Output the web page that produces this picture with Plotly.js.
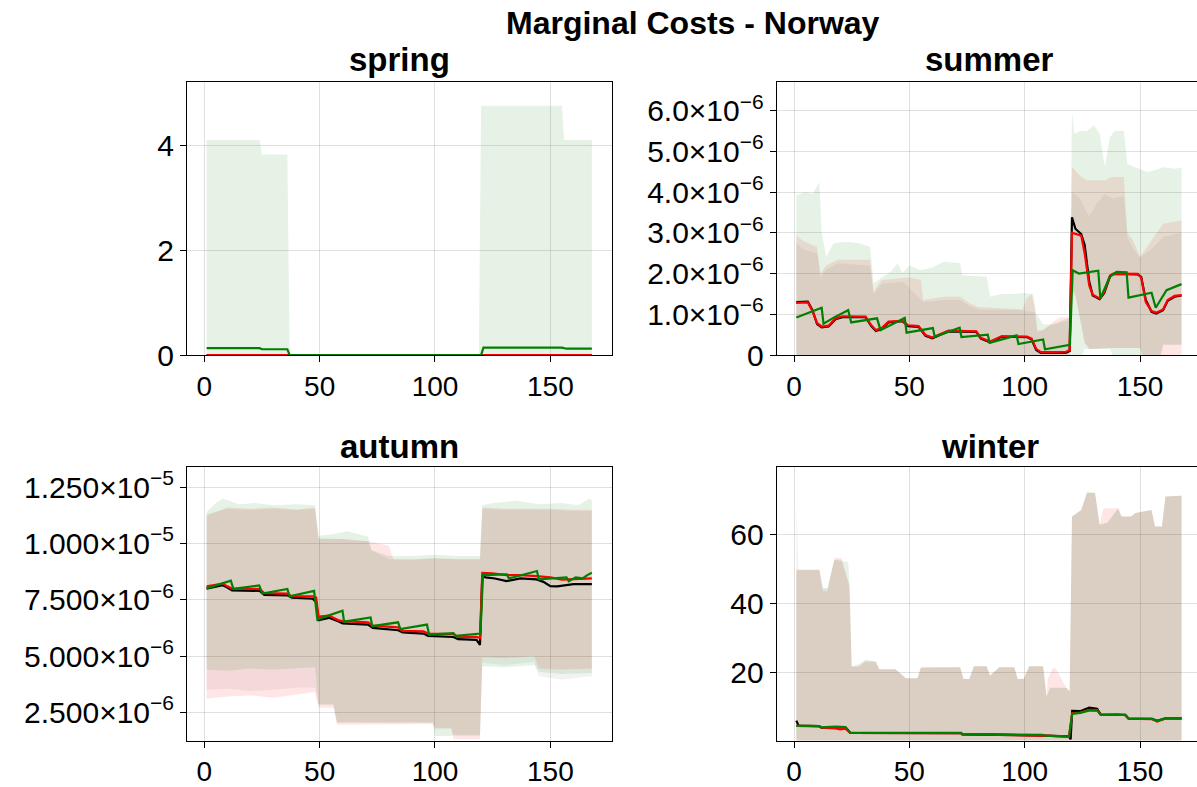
<!DOCTYPE html>
<html>
<head>
<meta charset="utf-8">
<script src="https://cdn.plot.ly/plotly-3.0.1.min.js"></script>
<style>
  html, body { margin: 0; padding: 0; background: #fff; }
  #chart { width: 1197px; height: 787px; }
</style>
</head>
<body>
<div id="chart"></div>
<script>
// ---------------- data: hourly marginal costs over one week (hour 1..168) ----------------
const hourTicks = [0, 50, 100, 150];

// spring (plain units)
const springTicks = [0, 2, 4];
const springBlackX = [1, 168];
const springBlack = [0, 0];
const springRedX = [1, 168];
const springRed = [0, 0];
const springGreenX = [1, 24, 25, 36, 37, 120, 121, 155, 157, 168];
const springGreen = [0.13, 0.13, 0.11, 0.11, 0, 0, 0.14, 0.14, 0.12, 0.12];
const springGreenUpX = [1, 24, 25, 36, 37, 119, 120, 155, 156, 168];
const springGreenUp = [4.1, 4.1, 3.82, 3.82, 0, 0, 4.75, 4.75, 4.1, 4.1];
const springGreenLoX = [1, 168];
const springGreenLo = [0, 0];

// summer (values in units of 1e-6)
const summerTicks = [0, 1, 2, 3, 4, 5, 6];
const summerTickText = ['0', '1.0×10<sup>−6</sup>', '2.0×10<sup>−6</sup>', '3.0×10<sup>−6</sup>',
  '4.0×10<sup>−6</sup>', '5.0×10<sup>−6</sup>', '6.0×10<sup>−6</sup>'];
const summerLineX = [1, 6, 8, 10, 12, 15, 18, 21, 31, 33.5, 35.5, 38, 41, 47, 49.5, 54, 57, 60, 64, 67,
  79, 81, 85, 88, 90, 101, 103, 105, 107, 118, 119.5, 120.5, 122, 124.5, 126, 128, 129.5, 132.5, 134.5, 137,
  138.5, 149, 150.5, 152.5, 155, 157, 160, 162, 165, 168];
const summerBlack = [1.3, 1.31, 1.1, 0.76, 0.68, 0.70, 0.88, 0.93, 0.93, 0.71, 0.59, 0.64, 0.80, 0.83, 0.71, 0.69, 0.47, 0.41, 0.51, 0.58,
  0.57, 0.40, 0.31, 0.38, 0.45, 0.44, 0.38, 0.12, 0.05, 0.06, 0.10, 3.38, 3.1, 2.97, 2.7, 1.8, 1.46, 1.37, 1.52, 1.93,
  1.99, 1.98, 1.92, 1.35, 1.06, 1.02, 1.1, 1.33, 1.43, 1.46];
const summerRed = [1.28, 1.29, 1.08, 0.78, 0.70, 0.72, 0.90, 0.95, 0.94, 0.73, 0.61, 0.66, 0.82, 0.84, 0.73, 0.71, 0.49, 0.43, 0.53, 0.60,
  0.58, 0.42, 0.33, 0.40, 0.46, 0.45, 0.40, 0.15, 0.07, 0.08, 0.12, 3.0, 2.97, 2.93, 2.5, 1.7, 1.48, 1.39, 1.55, 1.95,
  2.0, 1.99, 1.9, 1.3, 1.08, 1.04, 1.12, 1.35, 1.45, 1.47];
const summerGreenX = [1, 12, 12.8, 17.6, 23.5, 24.8, 36, 37.5, 48, 48.8, 60.2, 61, 71.8, 72.6, 84, 84.8, 96.5, 97.3, 108, 108.8,
  119.6, 120.8, 123.5, 131.9, 132.8, 136.9, 139.8, 144.2, 145, 155, 156.8, 161.5, 168];
const summerGreen = [0.92, 1.16, 0.77, 0.93, 1.1, 0.8, 0.9, 0.61, 0.91, 0.55, 0.66, 0.45, 0.67, 0.44, 0.5, 0.3, 0.48, 0.27, 0.38, 0.14,
  0.25, 2.08, 2.0, 2.07, 1.39, 1.92, 2.04, 2.03, 1.41, 1.53, 1.16, 1.59, 1.74];
const summerBlackUpX = [1, 4, 10, 11.5, 14, 19, 33, 34.5, 38, 47.5, 56, 65, 72, 76, 80, 99, 104.5, 105.5, 112, 119.5,
  120.5, 124, 126, 128, 131, 134.7, 138, 143, 144.5, 147, 150, 155, 160, 168];
const summerBlackUp = [2.75, 2.6, 2.5, 1.9, 2.1, 2.25, 2.2, 1.5, 1.75, 1.8, 1.3, 1.35, 1.35, 1.2, 1.12, 1.1, 1.05, 0.55, 0.75, 0.85,
  4.0, 3.85, 3.6, 3.4, 3.7, 3.95, 3.85, 3.9, 2.9, 2.6, 2.4, 2.6, 2.9, 3.0];
const summerBlackLoX = [1, 119.5, 120.5, 122, 124, 126, 128, 137, 150, 151, 159, 160, 168];
const summerBlackLo = [0, 0, 1.6, 1.5, 0.9, 0.3, 0.15, 0.17, 0.17, 0, 0, 0.25, 0.25];
const summerRedUpX = [1, 4, 10, 11.5, 14, 19, 33, 34.5, 38, 47.5, 50, 55, 56, 65, 72, 76, 80, 90, 99, 101,
  103, 104.5, 105.5, 108, 112, 115, 119.5, 120.5, 124, 127, 134.7, 138, 143, 144.5, 147, 150, 155, 160, 168];
const summerRedUp = [2.94, 2.8, 2.65, 2.0, 2.2, 2.34, 2.34, 1.55, 1.84, 1.88, 1.9, 1.85, 1.35, 1.43, 1.43, 1.27, 1.18, 1.15, 1.12, 1.4,
  1.5, 1.1, 0.61, 0.6, 0.8, 0.92, 0.92, 4.62, 4.4, 4.29, 4.29, 4.37, 4.37, 3.0, 2.82, 2.41, 2.8, 3.22, 3.3];
const summerRedLoX = [1, 119.5, 120.5, 122, 124, 126, 128, 137, 150, 151, 168];
const summerRedLo = [0, 0, 1.55, 1.45, 0.85, 0.3, 0.15, 0.17, 0.17, 0, 0];
const summerGreenUpX = [1, 5, 8, 11, 12, 14, 17, 22, 28, 33, 34.5, 38, 42, 45, 47, 50, 55, 60, 65, 72,
  73, 83.6, 85, 90, 95, 100, 103.7, 105, 108, 112, 119.5, 120.5, 121.5, 124, 127, 130, 132.5, 134.7, 137, 139,
  143, 144.5, 148, 153, 157, 160, 165, 168];
const summerGreenUp = [3.92, 4.0, 3.95, 4.25, 3.0, 2.41, 2.74, 2.78, 2.75, 2.65, 1.76, 1.9, 2.05, 2.25, 2.0, 2.2, 2.08, 2.15, 2.29, 2.25,
  1.96, 1.92, 1.43, 1.5, 1.5, 1.52, 1.5, 1.02, 0.75, 0.75, 0.92, 6.0, 5.43, 5.5, 5.5, 5.64, 5.43, 4.62, 5.35, 5.5,
  5.5, 4.69, 4.6, 4.49, 4.55, 4.61, 4.57, 4.6];
const summerGreenLoX = [1, 119.5, 120.5, 125, 126, 137, 138, 159, 160, 168];
const summerGreenLo = [0, 0, 0, 0, 0.15, 0.15, 0, 0, 0.25, 0.25];

// autumn (values in units of 1e-6)
const autumnTicks = [2.5, 5, 7.5, 10, 12.5];
const autumnTickText = ['2.500×10<sup>−6</sup>', '5.000×10<sup>−6</sup>', '7.500×10<sup>−6</sup>',
  '1.000×10<sup>−5</sup>', '1.250×10<sup>−5</sup>'];
const autumnBlackX = [1, 8, 10, 12, 24, 26, 36, 38, 47, 48.5, 49.5, 54, 58, 60, 71, 73, 84, 86, 95, 97,
  108, 110, 118, 119.5, 120.5, 122, 126, 131, 137, 144, 147, 150, 153, 160, 168];
const autumnBlack = [8.0, 8.15, 8.05, 7.92, 7.9, 7.72, 7.7, 7.6, 7.55, 7.4, 6.6, 6.7, 6.55, 6.45, 6.4, 6.25, 6.15, 6.05, 6.0, 5.9,
  5.85, 5.75, 5.72, 5.5, 8.55, 8.5, 8.45, 8.33, 8.45, 8.41, 8.3, 8.11, 8.1, 8.2, 8.2];
const autumnRedX = [1, 8, 10, 12, 24, 26, 36, 38, 47, 48.5, 49.5, 54, 58, 60, 71, 73, 84, 86, 95, 97,
  108, 110, 118, 119.5, 120.5, 125, 131, 137, 144, 150, 155, 160, 168];
const autumnRed = [8.1, 8.22, 8.1, 8.0, 7.98, 7.8, 7.78, 7.65, 7.65, 7.6, 6.75, 6.8, 6.6, 6.55, 6.5, 6.35, 6.28, 6.12, 6.1, 6.0,
  5.98, 5.85, 5.85, 5.8, 8.7, 8.68, 8.6, 8.6, 8.55, 8.5, 8.4, 8.42, 8.45];
const autumnGreenX = [1, 11.5, 12.6, 23.8, 25.2, 36, 37, 47.6, 49, 59.9, 60.6, 72.1, 72.8, 84, 85, 96.5, 97.5, 108, 109, 119.7,
  120.8, 131.2, 132, 138, 144.2, 145, 152, 157, 158, 161, 164, 166, 168];
const autumnGreen = [8.01, 8.35, 7.99, 8.14, 7.78, 7.98, 7.66, 7.9, 6.63, 7.02, 6.53, 6.72, 6.33, 6.5, 6.2, 6.4, 5.95, 6.02, 5.9, 6.0,
  8.6, 8.63, 8.45, 8.6, 8.78, 8.41, 8.45, 8.5, 8.33, 8.5, 8.45, 8.6, 8.7];
const autumnBlackUpX = [1, 10, 20, 30, 40, 48, 49.5, 60, 71, 72.5, 80, 90, 100, 110, 119.5, 120.5, 130, 140, 150, 160, 168];
const autumnBlackUp = [11.3, 11.55, 11.5, 11.55, 11.5, 11.55, 10.25, 10.2, 10.1, 9.7, 9.3, 9.3, 9.35, 9.3, 9.3, 11.55, 11.5, 11.5, 11.5, 11.45, 11.45];
const autumnRedUpX = [1, 10, 20, 30, 40, 48, 49.5, 60, 71, 76, 80, 82, 90, 100, 110, 119.5, 120.5, 130, 140, 150, 160, 168];
const autumnRedUp = [11.25, 11.6, 11.55, 11.6, 11.5, 11.6, 10.2, 10.2, 10.1, 10.0, 9.9, 9.3, 9.28, 9.35, 9.3, 9.3, 11.6, 11.55, 11.55, 11.55, 11.5, 11.5];
const autumnGreenUpX = [1, 5, 8, 15, 22, 30, 40, 48, 49.5, 55, 62, 71, 72.5, 80, 90, 100, 110, 119.5, 120.5, 125, 135, 145, 155, 162, 167, 168];
const autumnGreenUp = [11.4, 11.8, 12.0, 11.75, 11.8, 11.7, 11.75, 11.7, 10.35, 10.4, 10.55, 10.3, 9.7, 9.45, 9.45, 9.5, 9.45, 9.45, 11.7, 11.8, 11.9, 11.75, 11.8, 11.7, 12.0, 11.9];
const autumnLoX = [1, 10, 20, 30, 40, 48, 49.5, 56, 57.5, 99, 100, 107, 108, 119.5, 120.5, 130, 143, 145, 155, 168];
const autumnBlackLo = [3.5, 3.55, 3.45, 3.5, 3.6, 3.6, 2.85, 2.85, 2.05, 2.05, 1.75, 1.75, 1.45, 1.45, 4.7, 4.6, 4.75, 4.1, 3.95, 4.1];
const autumnRedLo = [3.1, 3.2, 3.25, 3.15, 3.3, 3.4, 2.7, 2.7, 1.95, 1.98, 1.8, 1.8, 1.3, 1.3, 4.95, 4.9, 5.0, 4.45, 4.4, 4.45];
const autumnGreenLo = [4.4, 4.35, 4.45, 4.4, 4.45, 4.5, 2.85, 2.85, 2.05, 2.05, 1.45, 1.45, 1.5, 1.5, 4.55, 4.5, 4.6, 4.3, 4.2, 4.25];

// winter (plain units)
const winterTicks = [20, 40, 60];
const winterBlackX = [1, 2, 10.8, 12, 18, 22.3, 24.4, 50, 72.4, 73, 107.8, 108.5, 119.2, 119.9, 120.6, 124, 128, 131.4, 133, 143.6,
  145.1, 155.2, 157.4, 161, 168];
const winterBlack = [5.85, 4.4, 4.25, 3.7, 3.9, 3.9, 2.3, 2.25, 2.2, 1.85, 1.7, 1.5, 1.25, 0.4, 8.7, 8.6, 9.6, 9.3, 7.6, 7.5,
  6.4, 6.33, 5.8, 6.5, 6.5];
const winterRedX = [1, 10.8, 12, 18, 20, 22.3, 24.4, 50, 72.4, 73, 107.8, 108.5, 119.2, 120.6, 124, 128, 131.4, 133, 140, 143.6,
  145.1, 155.2, 157.4, 161, 168];
const winterRed = [4.3, 4.25, 3.8, 3.6, 3.3, 3.5, 2.3, 2.25, 2.2, 1.85, 1.7, 1.5, 1.2, 8.0, 8.2, 9.0, 8.9, 7.55, 7.7, 7.4,
  6.4, 6.3, 5.6, 6.5, 6.5];
const winterGreenX = [1, 10.8, 12, 18, 22.3, 24.4, 50, 72.4, 73, 84.7, 107.8, 108.5, 119.2, 120.6, 124, 127.8, 131.4, 133, 143.6, 145.1,
  155.2, 157.4, 161, 168];
const winterGreen = [4.3, 4.25, 3.9, 4.1, 4.0, 2.33, 2.3, 2.25, 1.85, 1.9, 1.7, 1.5, 1.2, 7.8, 8.1, 8.75, 8.75, 7.5, 7.5, 6.33,
  6.33, 5.8, 6.5, 6.5];
const winterBlackUpX = [1, 2, 11, 12.5, 14.5, 17.5, 20.5, 24, 25, 28, 31, 35.5, 37, 44, 48.5, 53.5, 55, 65, 72, 73.5,
  76, 78, 83.5, 85, 89, 95.5, 97, 99.5, 102, 108, 109.5, 111, 118, 119.5, 120.5, 124.5, 127, 130.5, 132.5, 136,
  140.5, 142, 146, 148, 155, 156.5, 159.5, 161, 167, 168];
const winterBlackUp = [69, 49.8, 49.8, 44.4, 44.4, 52.7, 52.7, 45.6, 21.6, 21.6, 23.5, 23, 20.8, 20.8, 18.2, 18.2, 21.3, 21.4, 21.4, 18,
  18, 21.7, 21.7, 19, 21.4, 21.4, 18, 18, 21.7, 21.7, 12.8, 15.4, 15.4, 14.4, 65.3, 67.2, 72.1, 72.1, 62.9, 63.5,
  67.7, 65.3, 65.3, 66.3, 67.2, 62.4, 62.4, 71.1, 71.3, 71.3];
const winterRedUpX = [1, 2, 11, 12.5, 14.5, 17.5, 20.5, 24, 25, 28, 31, 35.5, 37, 44, 48.5, 53.5, 55, 65, 72, 73.5,
  76, 78, 83.5, 85, 89, 95.5, 97, 99.5, 102, 108, 109.5, 110, 112, 113.5, 118, 119.5, 120.5, 124.5, 127, 130.5,
  132.5, 134, 136, 140.5, 142, 146, 148, 155, 156.5, 159.5, 161, 167, 168];
const winterRedUp = [49.8, 49.8, 49.8, 43.5, 43.5, 53.2, 53.2, 45, 21.6, 21.6, 23.0, 23, 20.8, 20.8, 18.2, 18.2, 21.3, 21.4, 21.4, 18,
  18, 21.7, 21.7, 19, 21.4, 21.4, 18, 18, 21.7, 21.7, 13, 18, 21, 21, 15.4, 14.4, 65.3, 67.2, 72.1, 72.1,
  62.9, 67.5, 67.7, 67.7, 65.3, 65.3, 66.3, 67.2, 62.4, 62.4, 71.1, 71.3, 71.3];
const winterGreenUpX = [1, 11, 12.5, 14.5, 17.5, 23.5, 24.3, 25, 28, 31, 35.5, 37, 44, 48.5, 53.5, 55, 65, 72, 73.5, 76,
  78, 83.5, 85, 89, 95.5, 97, 99.5, 102, 108, 109.5, 111, 118, 119.5, 120.5, 124.5, 127, 130.5, 132.5, 136, 140.5,
  142, 146, 148, 155, 156.5, 159.5, 161, 167, 168];
const winterGreenUp = [49.8, 49.8, 44.4, 44.4, 52.7, 52.0, 42, 21.6, 22.3, 23.5, 23, 20.8, 20.8, 18.2, 18.2, 21.3, 21.4, 21.4, 18, 18,
  21.7, 21.7, 19, 21.4, 21.4, 18, 18, 21.7, 21.7, 12.8, 15.4, 15.4, 14.4, 65.3, 67.2, 72.5, 72.1, 62.9, 63.5, 67.7,
  65.3, 65.3, 66.3, 67.2, 62.4, 62.4, 71.1, 71.3, 71.3];
const winterLoX = [1, 168];
const winterLo = [0, 0];

// ---------------- drawing ----------------
const W = 1197, H = 787;
const FONT = '"Liberation Sans", Arial, Helvetica, sans-serif';
const px = x => x / W;          // pixel column -> paper fraction
const py = y => 1 - y / H;      // pixel row -> paper fraction
const MICRO = 1e-6;

const COLORS = {
  black: { line: '#000000', fill: 'rgba(0,0,0,0.05)' },
  red:   { line: '#ff0000', fill: 'rgba(255,0,0,0.1)' },
  green: { line: '#008000', fill: 'rgba(0,128,0,0.1)' }
};

function scaled(arr, k) { return arr.map(v => v * k); }

function bandTrace(xu, yu, xl, yl, k, color, xa, ya) {
  return {
    type: 'scatter', mode: 'lines', xaxis: xa, yaxis: ya,
    x: xu.concat(xl.slice().reverse()),
    y: scaled(yu, k).concat(scaled(yl, k).reverse()),
    fill: 'toself', fillcolor: COLORS[color].fill,
    line: { width: 0, color: 'rgba(0,0,0,0)' },
    hoverinfo: 'skip', showlegend: false
  };
}

function lineTrace(xs, ys, k, color, xa, ya) {
  return {
    type: 'scatter', mode: 'lines', xaxis: xa, yaxis: ya,
    x: xs, y: scaled(ys, k),
    line: { width: 2.2, color: COLORS[color].line },
    showlegend: false
  };
}

const panels = [
  { xa: 'x', ya: 'y', k: 1,
    bands: [['green', springGreenUpX, springGreenUp, springGreenLoX, springGreenLo]],
    lines: [['black', springBlackX, springBlack], ['red', springRedX, springRed], ['green', springGreenX, springGreen]] },
  { xa: 'x2', ya: 'y2', k: MICRO,
    bands: [['black', summerBlackUpX, summerBlackUp, summerBlackLoX, summerBlackLo],
            ['red', summerRedUpX, summerRedUp, summerRedLoX, summerRedLo],
            ['green', summerGreenUpX, summerGreenUp, summerGreenLoX, summerGreenLo]],
    lines: [['black', summerLineX, summerBlack], ['red', summerLineX, summerRed], ['green', summerGreenX, summerGreen]] },
  { xa: 'x3', ya: 'y3', k: MICRO,
    bands: [['black', autumnBlackUpX, autumnBlackUp, autumnLoX, autumnBlackLo],
            ['red', autumnRedUpX, autumnRedUp, autumnLoX, autumnRedLo],
            ['green', autumnGreenUpX, autumnGreenUp, autumnLoX, autumnGreenLo]],
    lines: [['black', autumnBlackX, autumnBlack], ['red', autumnRedX, autumnRed], ['green', autumnGreenX, autumnGreen]] },
  { xa: 'x4', ya: 'y4', k: 1,
    bands: [['black', winterBlackUpX, winterBlackUp, winterLoX, winterLo],
            ['red', winterRedUpX, winterRedUp, winterLoX, winterLo],
            ['green', winterGreenUpX, winterGreenUp, winterLoX, winterLo]],
    lines: [['black', winterBlackX, winterBlack], ['red', winterRedX, winterRed], ['green', winterGreenX, winterGreen]] }
];

const traces = [];
panels.forEach(p => {
  p.bands.forEach(b => traces.push(bandTrace(b[1], b[2], b[3], b[4], p.k, b[0], p.xa, p.ya)));
});
panels.forEach(p => {
  p.lines.forEach(l => traces.push(lineTrace(l[1], l[2], p.k, l[0], p.xa, p.ya)));
});

const baseAxis = {
  showline: true, mirror: true, linecolor: '#000', linewidth: 1,
  ticks: 'outside', ticklen: 6, tickwidth: 1, tickcolor: '#000',
  showgrid: true, gridcolor: 'rgba(0,0,0,0.12)', gridwidth: 1,
  zeroline: false, fixedrange: true
};
const xAxis = (dom, range, anchor) => Object.assign({}, baseAxis, {
  domain: dom, range: range, anchor: anchor, tickmode: 'array', tickvals: hourTicks,
  ticktext: hourTicks.map(String),
  tickfont: { family: FONT, size: 28, color: '#000' }
});
const yAxis = (dom, range, anchor, vals, text) => Object.assign({}, baseAxis, {
  domain: dom, range: range, anchor: anchor, tickmode: 'array', tickvals: vals, ticktext: text,
  tickfont: { family: FONT, size: 30, color: '#000' }
});

const colL = [px(187), px(611.7)];
const colR = [px(776.7), 1];
const rowT = [py(355), py(81.7)];
const rowB = [py(740.7), py(467.3)];

const ann = (x, y, text, size) => ({
  xref: 'paper', yref: 'paper', x: px(x), y: py(y), xanchor: 'center', yanchor: 'middle',
  text: '<b>' + text + '</b>', showarrow: false,
  font: { family: FONT, size: size, color: '#000' }
});

const layout = {
  width: W, height: H,
  margin: { l: 0, r: 0, t: 0, b: 0 },
  paper_bgcolor: '#fff', plot_bgcolor: '#fff',
  showlegend: false,
  font: { family: FONT, size: 28, color: '#000' },
  xaxis:  xAxis(colL, [-7.5, 176.6], 'y'),
  yaxis:  yAxis(rowT, [0, 5.21], 'x', springTicks, springTicks.map(String)),
  xaxis2: xAxis(colR, [-7.5, 174.7], 'y2'),
  yaxis2: yAxis(rowT, [0, 6.71 * MICRO], 'x2', scaled(summerTicks, MICRO), summerTickText),
  xaxis3: xAxis(colL, [-7.5, 176.6], 'y3'),
  yaxis3: yAxis(rowB, [1.24 * MICRO, 13.39 * MICRO], 'x3', scaled(autumnTicks, MICRO), autumnTickText),
  xaxis4: xAxis(colR, [-7.5, 174.7], 'y4'),
  yaxis4: yAxis(rowB, [0, 79.6], 'x4', winterTicks, winterTicks.map(String)),
  annotations: [
    ann(693, 23, 'Marginal Costs - Norway', 32),
    ann(399.4, 60, 'spring', 33),
    ann(989.5, 60, 'summer', 33),
    ann(399.4, 446, 'autumn', 33),
    ann(989.5, 446, 'winter', 33)
  ]
};

Plotly.newPlot('chart', traces, layout, { displayModeBar: false, staticPlot: true });
</script>
</body>
</html>
